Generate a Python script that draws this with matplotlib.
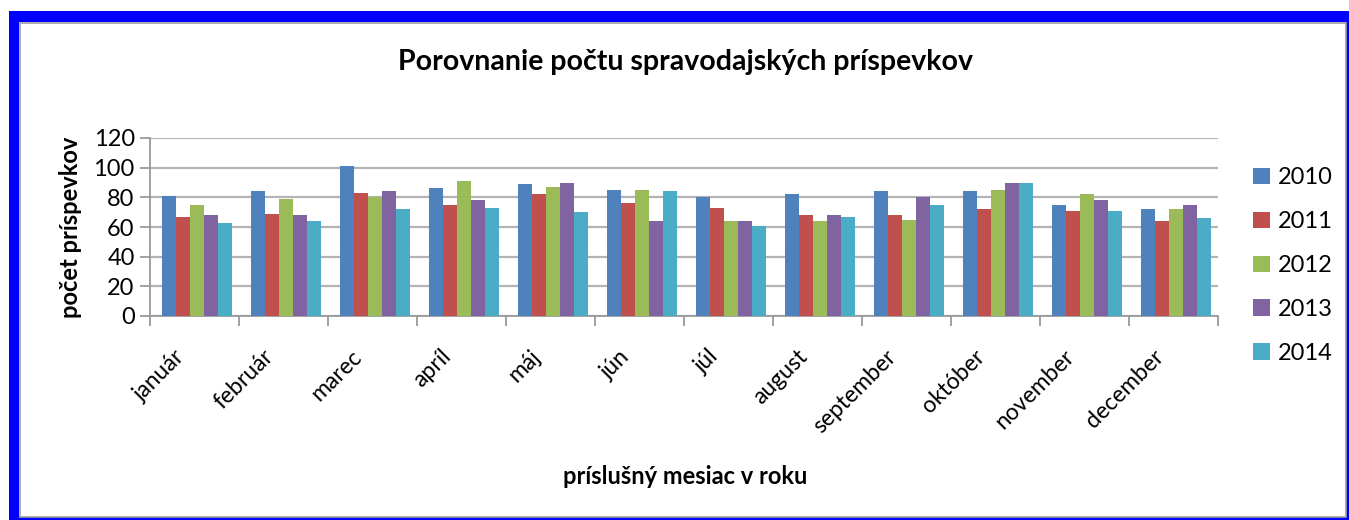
import numpy as np
import matplotlib.pyplot as plt
import matplotlib.transforms as mtransforms
from matplotlib.patches import Rectangle

plt.rcParams['font.family'] = ['Lato', 'DejaVu Sans']

months = ['január', 'február', 'marec', 'apríl', 'máj', 'jún', 'júl',
          'august', 'september', 'október', 'november', 'december']
years = ['2010', '2011', '2012', '2013', '2014']
colors = ['#4F81BD', '#C0504D', '#9BBB59', '#8064A2', '#4BACC6']

v2010 = [81, 84, 101, 86, 89, 85, 80, 82, 84, 84, 75, 72]
v2011 = [67, 69, 83, 75, 82, 76, 73, 68, 68, 72, 71, 64]
v2012 = [75, 79, 80, 91, 87, 85, 64, 64, 65, 85, 82, 72]
v2013 = [68, 68, 84, 78, 90, 64, 64, 68, 80, 90, 78, 75]
v2014 = [63, 64, 72, 73, 70, 84, 61, 67, 75, 90, 71, 66]
series = [v2010, v2011, v2012, v2013, v2014]

W, H = 1349, 520
fig = plt.figure(figsize=(W / 100, H / 100), dpi=100)
fig.patch.set_facecolor('white')

# blue frame around the chart (pixel positions converted to figure fractions)
def px_rect(x0, y0, x1, y1, **kw):
    fig.patches.append(Rectangle((x0 / W, 1 - y1 / H), (x1 - x0) / W, (y1 - y0) / H,
                                 transform=fig.transFigure, **kw))

px_rect(9, 11, 19, 520, facecolor='#0000FF', edgecolor='none')
px_rect(9, 11, 1349, 22, facecolor='#0000FF', edgecolor='none')
px_rect(1346, 11, 1349, 520, facecolor='#0000FF', edgecolor='none')
px_rect(9, 517, 1349, 520, facecolor='#0000FF', edgecolor='none')
px_rect(19.5, 22.5, 1345.5, 516.5, facecolor='none', edgecolor='#A0A0A0', linewidth=1.2)

ax = fig.add_axes([150 / W, 1 - 316 / H, (1218 - 150) / W, (316 - 138) / H])

x = np.arange(len(months))
bw = 0.157
for i, (vals, col, yr) in enumerate(zip(series, colors, years)):
    ax.bar(x + (i - 2) * bw + 0.03, vals, width=bw, color=col, label=yr, zorder=3)

ax.set_xlim(-0.5, len(months) - 0.5)
ax.set_ylim(0, 120)
ax.set_yticks(range(0, 121, 20))
ax.yaxis.grid(True, color='#B4B4B4', linewidth=1.6, zorder=0)
for s in ['top', 'right']:
    ax.spines[s].set_visible(False)
for s in ['left', 'bottom']:
    ax.spines[s].set_color('#9A9A9A')
    ax.spines[s].set_linewidth(1.3)

ax.set_xticks(x)
ax.set_xticklabels(months, rotation=45, ha='right', va='top', rotation_mode='anchor',
                   fontsize=16.5)
ax.tick_params(axis='x', which='major', length=0, pad=15)
# nudge the rotated month labels left/down like in the original
shift = mtransforms.ScaledTranslation(-21 / 100, -9 / 100, fig.dpi_scale_trans)
for lbl in ax.get_xticklabels():
    lbl.set_transform(lbl.get_transform() + shift)
ax.set_xticks(np.arange(-0.5, len(months)), minor=True)
ax.tick_params(axis='x', which='minor', length=7, color='#9A9A9A', width=1.3)
ax.tick_params(axis='y', length=7, color='#9A9A9A', width=1.3, labelsize=17, pad=4)

ax.set_ylabel('počet príspevkov', fontsize=17, fontweight='bold', labelpad=8)
fig.text(685 / W, 1 - 477 / H, 'príslušný mesiac v roku', fontsize=17,
         fontweight='bold', ha='center', va='center')
fig.text(685 / W, 1 - 62 / H, 'Porovnanie počtu spravodajských príspevkov',
         fontsize=20.5, fontweight='bold', ha='center', va='center')

ax.legend(loc='upper left', bbox_to_anchor=(1.013, 0.955), frameon=False,
          fontsize=17, handlelength=0.7, handleheight=0.7, handletextpad=0.35,
          labelspacing=0.97)

fig.savefig('out.png', dpi=100)
